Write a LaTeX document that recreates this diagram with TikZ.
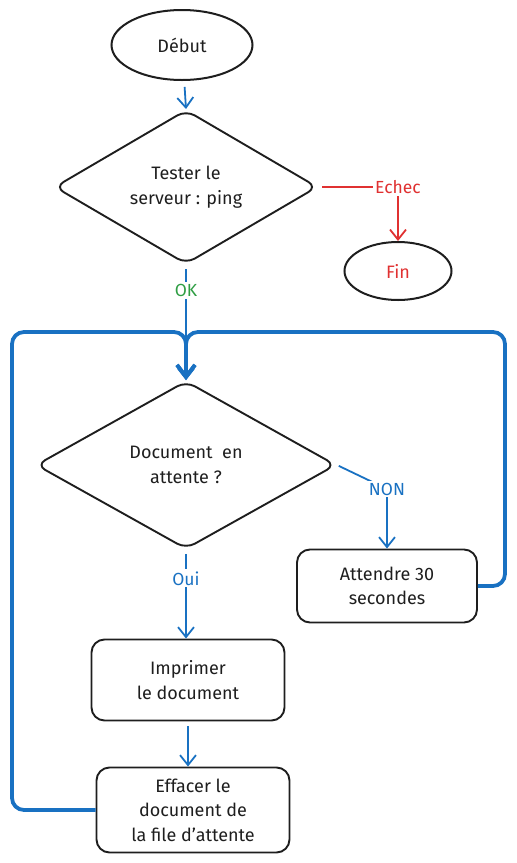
\documentclass[tikz,border=0pt]{standalone}
\usepackage{fontspec}
\setmainfont{Fira Sans}
\usepackage{tikz}
\usetikzlibrary{arrows.meta,shapes.geometric}
\definecolor{ink}{HTML}{1E1E1E}
\definecolor{flowblue}{HTML}{1971C2}
\definecolor{failred}{HTML}{E03131}
\definecolor{okgreen}{HTML}{2F9E44}

\begin{document}
\begin{tikzpicture}[x=1pt,y=-1pt]
        \tikzset{every node/.style = {text=ink,font=\fontsize{18}{24.5}\selectfont}}
        \tikzset{terminal/.style = {shape=ellipse,draw=ink,line width=2pt,inner sep=0pt}}
        \tikzset{decision/.style = {shape=diamond,draw=ink,line width=1.9pt,rounded corners=10pt,inner sep=0pt,align=center}}
        \tikzset{process/.style = {shape=rectangle,draw=ink,line width=1.9pt,rounded corners=13pt,align=center}}
        \tikzset{flow/.style = {draw=flowblue,line width=1.8pt,-{Straight Barb[length=10pt,width=16pt]}}}
        \tikzset{loopback/.style = {draw=flowblue,line width=3.8pt,rounded corners=12pt,-{Straight Barb[length=12pt,width=18pt]}}}
        \tikzset{tag/.style = {fill=white,inner sep=2pt,font=\fontsize{17.5}{19}\selectfont}}
        \useasboundingbox (0,0) rectangle (517,863);
        % vertices
        \node[terminal, minimum width=141pt, minimum height=70pt] (debut) at (182,45) {Début};
        \node[decision, minimum width=263pt, minimum height=126pt] (test) at (186,187) {Tester le\\serveur : ping};
        \node[terminal, minimum width=107pt, minimum height=58pt, text=failred] (fin) at (398,271) {Fin};
        \node[decision, minimum width=300pt, minimum height=168pt] (doc) at (186,465) {Document~ en\\attente ?};
        \node[process, minimum width=180pt, minimum height=73pt] (wait) at (387,586) {Attendre 30\\secondes};
        \node[process, minimum width=193pt, minimum height=81pt] (print) at (188,680) {Imprimer\\le document};
        \node[process, minimum width=193pt, minimum height=85pt] (erase) at (193,810) {Effacer le\\document de\\la file d'attente};
        \coordinate (nonbend) at (387,489);
        \coordinate (loopL) at (12,332);
        \coordinate (loopR) at (505,332);
        \coordinate (merge) at (186,332);
        %edges
        \draw[flow, shorten <=6pt] (debut) to (test.north);
        \draw[flow, shorten <=4pt, draw=failred] (test.east) -| node[tag, pos=0.5, text=failred] {Echec} (fin.north);
        \draw[flow, shorten <=4pt] (test.south) -- node[tag, pos=0.22, text=okgreen] {OK} (doc.north);
        \draw[flow, shorten <=2pt] (doc.east) -- (nonbend) node[tag, text=flowblue] {NON} -- (wait.north);
        \draw[flow, shorten <=4pt] (doc.south) -- node[tag, pos=0.32, text=flowblue] {Oui} (doc.south |- print.north);
        \draw[flow, shorten <=5pt] (print.south) -- (print.south |- erase.north);
        \draw[loopback] (erase.west) -| (loopL) -- (merge) -- (doc.north);
        \draw[loopback] (wait.east) -| (loopR) -- (merge) -- (doc.north);
\end{tikzpicture}
\end{document}
